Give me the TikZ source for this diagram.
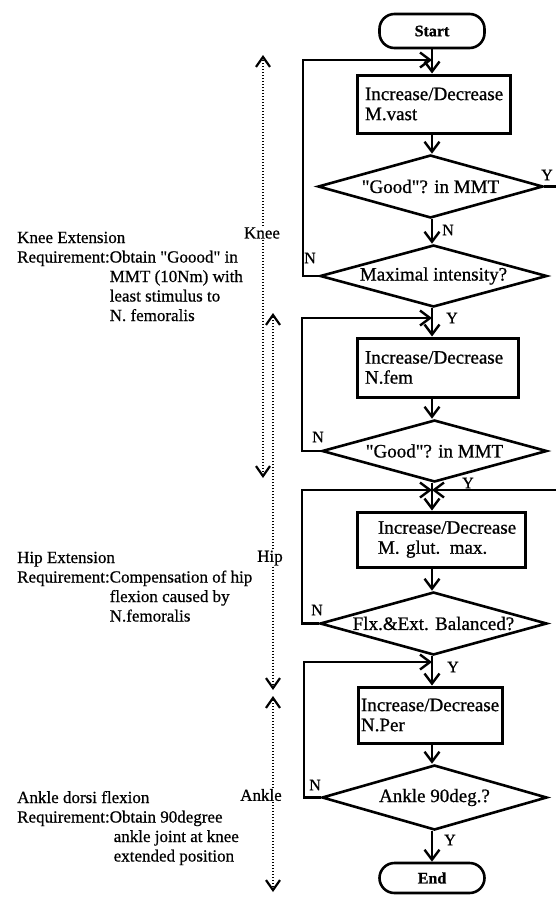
\documentclass[tikz,border=0pt]{standalone}
\usepackage{fontspec}
\setmainfont{Liberation Serif}[Ligatures=TeXOff,FakeBold=0.8]
\newfontfamily\notefont{Liberation Serif}[Ligatures=TeXOff,FakeBold=0.6]
\usepackage{tikz}
\usetikzlibrary{shapes,arrows,positioning,calc,arrows.meta}
\hyphenpenalty=10000

\tikzset{
    flow/.style={line width=2.6pt,-{Straight Barb[length=10pt,width=15pt,line width=2.4pt]}},
    proc/.style={draw,line width=3pt,align=left,inner xsep=8pt,inner ysep=0pt,
        font=\fontsize{19}{20}\selectfont},
    decision/.style={draw,diamond,aspect=3.6,line width=2.6pt,inner sep=0pt,
        font=\fontsize{19}{20}\selectfont},
    term/.style={draw,line width=2.6pt,rounded corners=15pt,minimum width=105pt,
        font=\bfseries\fontsize{16}{18}\selectfont},
    yn/.style={inner sep=0pt,font=\fontsize{16}{16}\selectfont},
    jointspan/.style={line width=1.7pt,dash pattern=on 1.3pt off 1.7pt},
    jointtip/.style={-{Straight Barb[length=10pt,width=14pt,line width=2.2pt]}},
    jointlbl/.style={inner sep=1pt,font=\notefont\fontsize{17}{19.5}\selectfont},
    reqtext/.style={inner sep=0pt,anchor=base west,font=\notefont\fontsize{17}{19.5}\selectfont},
}

\begin{document}
\begin{tikzpicture}[x=1pt,y=-1pt]
    \useasboundingbox (0,0) rectangle (556,900);

    % flow chart
    \node[term,minimum height=34pt] (start) at (432,31) {Start};
    \node[proc,text width=137pt,minimum height=58pt] (vast) at (433.5,104) {Increase/Decrease\\M.vast};
    \node[decision,minimum width=225pt,minimum height=63pt] (good1) at (430.5,186.5) {"Good"? in MMT};
    \node[decision,minimum width=227pt,minimum height=62pt] (maxint) at (433.5,276) {Maximal intensity?};
    \node[proc,text width=145pt,minimum height=59pt] (fem) at (437.5,367.5) {Increase/Decrease\\N.fem};
    \node[decision,minimum width=225pt,minimum height=62pt] (good2) at (434.5,451) {"Good"? in MMT};
    \node[proc,text width=154pt,inner xsep=7pt,minimum height=55pt] (glut) at (441,539.5) {\hspace*{14pt}Increase/Decrease\\\hspace*{14pt}M. glut. max.};
    \node[decision,minimum width=227pt,minimum height=63pt] (balance) at (433.5,623.5) {Flx.\&Ext. Balanced?};
    \node[proc,text width=138pt,inner xsep=3pt,minimum height=56pt] (per) at (430,715) {Increase/Decrease\\N.Per};
    \node[decision,minimum width=225pt,minimum height=65pt] (ankle) at (434.5,797.5) {Ankle 90deg.?};
    \node[term,minimum height=30pt] (end) at (432,878) {End};

    \draw[flow] (start) -- (start |- vast.north);
    \draw[flow] (vast.south -| start) -- (start |- good1.north);
    \draw[flow] (good1.south -| start) -- (start |- maxint.north);
    \draw[flow] (maxint.south -| start) -- (start |- fem.north);
    \draw[flow] (fem.south -| start) -- (start |- good2.north);
    \draw[flow] (good2.south -| start) -- (start |- glut.north);
    \draw[flow] (glut.south -| start) -- (start |- balance.north);
    \draw[flow] (balance.south -| start) -- (start |- per.north);
    \draw[flow] (per.south -| start) -- (start |- ankle.north);
    \draw[flow] (ankle.south -| start) -- (end);

    % loops back
    \coordinate (loopA) at (303,60);
    \coordinate (loopB) at (302,318);
    \coordinate (loopC) at (302,490);
    \coordinate (loopD) at (304,662);
    \coordinate (skipA) at (562,490);
    \draw[flow] (maxint.west) -| (loopA) -- (start |- loopA);
    \draw[flow] (good2.west) -| (loopB) -- (start |- loopB);
    \draw[flow] (balance.west) -| (loopC) -- (start |- loopC);
    \draw[flow] (ankle.west) -| (loopD) -- (start |- loopD);
    \draw[flow] (good1.east) -| (skipA) -- (start |- skipA);

    \node[yn] (y1) at (547,175) {Y};
    \node[yn] (n1) at (448,230) {N};
    \node[yn] (n2) at (310,258) {N};
    \node[yn] (y2) at (452,318) {Y};
    \node[yn] (n3) at (318,437) {N};
    \node[yn] (y3) at (468,483) {Y};
    \node[yn] (n4) at (317,610) {N};
    \node[yn] (y4) at (453,667) {Y};
    \node[yn] (n5) at (315,785) {N};
    \node[yn] (y5) at (450,840) {Y};

    % joints
    \coordinate (kneetop) at (263,55);
    \coordinate (kneebot) at (263,478);
    \coordinate (hiptop) at (273,313);
    \coordinate (hipbot) at (273,690);
    \coordinate (ankletop) at (273,696);
    \coordinate (anklebot) at (273,892);
    \node[jointlbl] (kneelbl) at (262,233) {Knee};
    \node[jointlbl] (hiplbl) at (270,558) {Hip};
    \node[jointlbl] (anklelbl) at (261,795) {Ankle};
    \draw[jointspan,jointtip] (kneetop |- kneelbl.north) -- (kneetop);
    \draw[jointspan,jointtip] (kneetop |- kneelbl.south) -- (kneebot);
    \draw[jointspan,jointtip] (hiptop |- hiplbl.north) -- (hiptop);
    \draw[jointspan,jointtip] (hiptop |- hiplbl.south) -- (hipbot);
    \draw[jointspan,jointtip] (ankletop |- anklelbl.north) -- (ankletop);
    \draw[jointspan,jointtip] (ankletop |- anklelbl.south) -- (anklebot);

    % requirements
    \node[reqtext] (kneereq) at (17,243) {\begin{tabular}[t]{@{}l@{}l@{}}
        \multicolumn{2}{@{}l@{}}{Knee Extension}\\
        Requirement:&Obtain "Goood" in\\
        &MMT (10Nm) with\\
        &least stimulus to\\
        &N. femoralis
    \end{tabular}};
    \node[reqtext] (hipreq) at (17,563) {\begin{tabular}[t]{@{}l@{}l@{}}
        \multicolumn{2}{@{}l@{}}{Hip Extension}\\
        Requirement:&Compensation of hip\\
        &flexion caused by\\
        &N.femoralis
    \end{tabular}};
    \node[reqtext] (anklereq) at (17,803) {\begin{tabular}[t]{@{}l@{}l@{}}
        \multicolumn{2}{@{}l@{}}{Ankle dorsi flexion}\\
        Requirement: &Obtain 90degree\\
        &\hspace*{4pt}ankle joint at knee\\
        &\hspace*{4pt}extended position
    \end{tabular}};
\end{tikzpicture}
\end{document}
